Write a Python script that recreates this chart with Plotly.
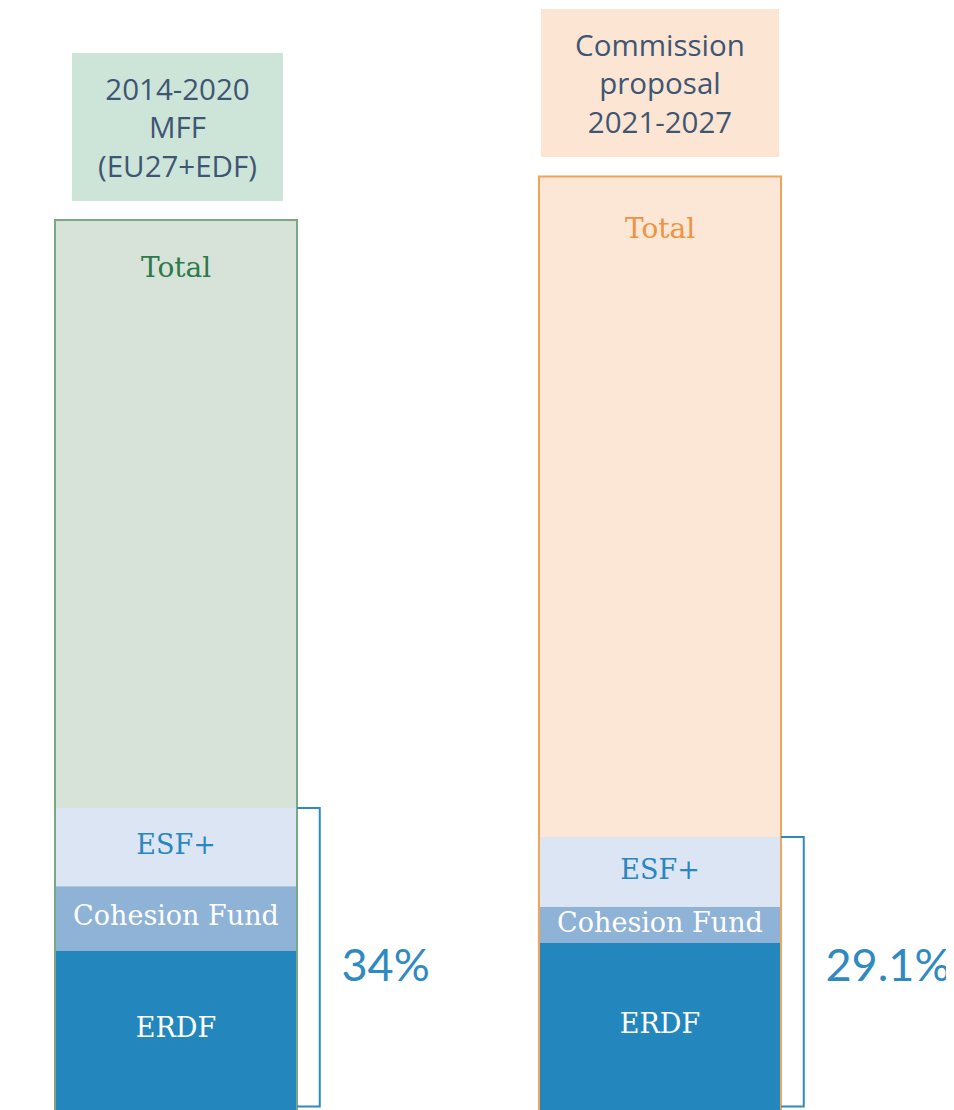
import plotly.graph_objects as go

# ---- data (EUR bn) ----
periods = ["2014-2020<br>MFF<br>(EU27+EDF)", "Commission<br>proposal<br>2021-2027"]
totals = [1082, 1135]
erdf = [194, 203]
cohesion = [78, 44]
esf = [95, 85]
segment_names = ["ERDF", "Cohesion Fund", "ESF+"]
share_labels = ["34%", "29.1%"]
total_label = "Total"

# ---- styles ----
xs = [0, 1]
W = 0.5
total_fill = ["#d7e3d8", "#fce6d5"]
total_line = ["#7aa882", "#f0a45c"]
total_text = ["#2b7a4b", "#ec9443"]
header_bg = ["#cde4d9", "#fce5d3"]
header_w = [211, 238]
seg_fill = {"ERDF": "#2387be", "Cohesion Fund": "#8fb2d7", "ESF+": "#dbe5f3"}
seg_text = {"ERDF": "#ffffff", "Cohesion Fund": "#ffffff", "ESF+": "#2a86bf"}
blue = "#2f8ac2"
serif = "DejaVu Serif"

# page body has an 8px margin: figure sits at (8, 8) in the window
OFF = 8
PX_X = 484.0          # px per x unit
PX_Y = 890.0 / 1082   # px per y unit
FIG_W, FIG_H = 954 - OFF, 1110 - OFF
x_range = [-(176 - OFF) / PX_X, (FIG_W - (176 - OFF)) / PX_X]
y_bot = 0
y_top = FIG_H / PX_Y
y_range = [y_bot, y_top]

fig = go.Figure()

# total bar background
fig.add_trace(go.Bar(x=xs, y=totals, width=W,
                     marker=dict(color=total_fill, line=dict(width=0)),
                     showlegend=False, hoverinfo="skip"))

# stacked segments
seg_vals = {"ERDF": erdf, "Cohesion Fund": cohesion, "ESF+": esf}
base = [0, 0]
mids = {}
for name in segment_names:
    vals = seg_vals[name]
    fig.add_trace(go.Bar(x=xs, y=vals, base=base, width=W,
                         marker=dict(color=seg_fill[name], line=dict(width=0)),
                         showlegend=False, name=name))
    mids[name] = [bb + v / 2 for bb, v in zip(base, vals)]
    base = [bb + v for bb, v in zip(base, vals)]
shares_top = base

# segment labels
for name in segment_names:
    fig.add_trace(go.Scatter(x=xs, y=mids[name], mode="text", text=[name, name],
                             textfont=dict(family=serif, size=27, color=seg_text[name]),
                             showlegend=False, hoverinfo="skip"))

# outline of total bars (three sides)
for i, x in enumerate(xs):
    fig.add_trace(go.Scatter(x=[x - W / 2, x - W / 2, x + W / 2, x + W / 2],
                             y=[y_bot, totals[i], totals[i], y_bot], mode="lines",
                             line=dict(color=total_line[i], width=2),
                             showlegend=False, hoverinfo="skip"))

# brackets
d = 0.047
bb_y = 3.5 / PX_Y
for i, x in enumerate(xs):
    xr = x + W / 2
    fig.add_trace(go.Scatter(x=[xr, xr + d, xr + d, xr],
                             y=[shares_top[i], shares_top[i], bb_y, bb_y], mode="lines",
                             line=dict(color=blue, width=2),
                             showlegend=False, hoverinfo="skip"))

# share labels
lab_y = min(shares_top) / 2 + 4
fig.add_trace(go.Scatter(x=[x + W / 2 + d + 0.045 for x in xs],
                         y=[lab_y, lab_y], mode="text",
                         text=share_labels, textposition="middle right",
                         textfont=dict(family="Lato", size=45, color=blue),
                         showlegend=False, hoverinfo="skip", cliponaxis=False))

annotations = []
for i, x in enumerate(xs):
    annotations.append(dict(x=x + 0.003 * (1 - i), y=totals[i], xref="x", yref="y", yanchor="bottom",
                            yshift=19, text=periods[i], showarrow=False,
                            bgcolor=header_bg[i], width=header_w[i], height=148,
                            borderpad=0, borderwidth=0,
                            font=dict(family="Open Sans", size=29.5, color="#3f5673")))
    annotations.append(dict(x=x, y=totals[i], xref="x", yref="y", yanchor="middle",
                            yshift=[-47, -52][i], text=total_label, showarrow=False,
                            font=dict(family=serif, size=28, color=total_text[i])))

fig.update_layout(
    width=FIG_W, height=FIG_H,
    margin=dict(l=0, r=0, t=0, b=0),
    barmode="overlay",
    plot_bgcolor="white", paper_bgcolor="white",
    xaxis=dict(range=x_range, visible=False, fixedrange=True),
    yaxis=dict(range=y_range, visible=False, fixedrange=True),
    annotations=annotations,
    showlegend=False,
)

fig.write_html("out.html")
